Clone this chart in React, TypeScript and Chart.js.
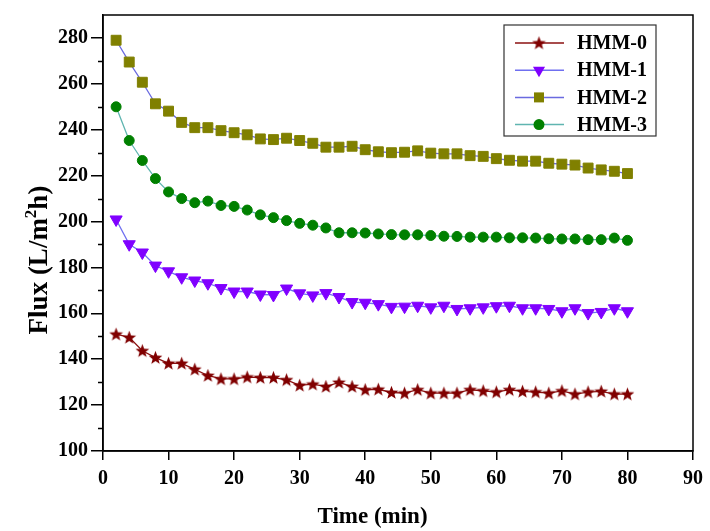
import React, { useEffect, useRef } from 'react';
import { Chart, registerables } from 'chart.js';

Chart.register(...registerables);

const times = [2, 4, 6, 8, 10, 12, 14, 16, 18, 20, 22, 24, 26, 28, 30, 32, 34, 36, 38, 40,
  42, 44, 46, 48, 50, 52, 54, 56, 58, 60, 62, 64, 66, 68, 70, 72, 74, 76, 78, 80];

const hmm0 = [150.9, 149.5, 143.7, 140.7, 138.2, 138.2, 135.6, 132.9, 131.4, 131.4,
  132.2, 132.0, 132.0, 131.0, 128.6, 129.1, 128.1, 129.9, 128.1, 126.7,
  126.9, 125.5, 125.2, 126.7, 125.2, 125.2, 125.2, 126.7, 126.2, 125.7,
  126.7, 126.0, 125.7, 125.2, 126.2, 124.8, 125.7, 126.0, 124.8, 124.8];

const hmm1 = [200.9, 190.1, 186.5, 180.8, 178.3, 175.7, 174.3, 173.1, 171.0, 169.5,
  169.5, 168.2, 168.0, 170.8, 168.7, 167.8, 168.8, 167.1, 164.9, 164.6,
  164.0, 162.8, 162.9, 163.3, 162.6, 163.3, 161.9, 162.2, 162.6, 163.1,
  163.3, 162.2, 162.2, 161.9, 160.9, 162.2, 160.1, 160.6, 162.2, 160.9];

const hmm2 = [279.0, 269.5, 260.7, 251.3, 248.1, 243.2, 240.9, 240.9, 239.6, 238.7,
  237.8, 236.0, 235.7, 236.3, 235.3, 234.1, 232.4, 232.4, 232.8, 231.3,
  230.4, 230.0, 230.2, 230.8, 229.8, 229.5, 229.5, 228.7, 228.4, 227.4,
  226.7, 226.3, 226.3, 225.4, 225.0, 224.6, 223.3, 222.5, 221.9, 220.9];

const hmm3 = [250.0, 235.3, 226.6, 218.7, 212.9, 210.0, 208.2, 208.9, 207.0, 206.6,
  205.0, 202.9, 201.7, 200.4, 199.2, 198.4, 197.2, 195.1, 195.1, 195.0,
  194.6, 194.3, 194.2, 194.2, 193.9, 193.6, 193.5, 193.2, 193.2, 193.2,
  192.9, 192.9, 192.8, 192.5, 192.4, 192.4, 192.1, 192.1, 192.8, 191.8];

const seriesLabels = ['HMM-0', 'HMM-1', 'HMM-2', 'HMM-3'];
const xTitle = 'Time (min)';
const yTitleParts = ['Flux (L/m', '2', 'h)'];

const FONT = "'Liberation Serif', 'Times New Roman', serif";

const markerColors = ['#800000', '#8000ff', '#808000', '#008000'];
const lineColors = ['#8b1010', '#6f6ff0', '#6a6ae0', '#5fb5b0'];

function makeStar(size: number, color: string): HTMLCanvasElement {
  const c = document.createElement('canvas');
  c.width = size;
  c.height = size;
  const ctx = c.getContext('2d')!;
  const cx = size / 2, cy = size / 2 + 0.5;
  const ro = size / 2 - 0.3, ri = ro * 0.42;
  ctx.beginPath();
  for (let i = 0; i < 10; i++) {
    const r = i % 2 === 0 ? ro : ri;
    const a = -Math.PI / 2 + (i * Math.PI) / 5;
    const px = cx + r * Math.cos(a);
    const py = cy + r * Math.sin(a);
    if (i === 0) ctx.moveTo(px, py); else ctx.lineTo(px, py);
  }
  ctx.closePath();
  ctx.fillStyle = color;
  ctx.fill();
  return c;
}

function drawMarker(ctx: CanvasRenderingContext2D, i: number, x: number, y: number, star: HTMLCanvasElement) {
  ctx.save();
  ctx.fillStyle = markerColors[i];
  if (i === 0) {
    ctx.drawImage(star, x - star.width / 2, y - star.height / 2);
  } else if (i === 1) {
    const r = 7;
    ctx.beginPath();
    ctx.moveTo(x, y + r);
    ctx.lineTo(x - r * 0.866, y - r * 0.5);
    ctx.lineTo(x + r * 0.866, y - r * 0.5);
    ctx.closePath();
    ctx.fill();
  } else if (i === 2) {
    ctx.fillRect(x - 5, y - 5, 10, 10);
  } else {
    ctx.beginPath();
    ctx.arc(x, y, 5.5, 0, Math.PI * 2);
    ctx.fill();
  }
  ctx.restore();
}

export default function App() {
  const ref = useRef<HTMLCanvasElement | null>(null);

  useEffect(() => {
    if (!ref.current) return;
    const star = makeStar(15, markerColors[0]);

    const framePlugin = {
      id: 'frameAndLegend',
      afterDraw(chart: any) {
        const { ctx, chartArea } = chart;
        const ys = chart.scales.y;
        ctx.save();
        // minor ticks on y
        ctx.strokeStyle = '#000';
        ctx.lineWidth = 1.5;
        for (let v = 110; v < 290; v += 20) {
          const py = Math.round(ys.getPixelForValue(v)) + 0.5;
          ctx.beginPath();
          ctx.moveTo(chartArea.left - 5, py);
          ctx.lineTo(chartArea.left, py);
          ctx.stroke();
        }
        // frame
        ctx.strokeRect(chartArea.left, chartArea.top, chartArea.right - chartArea.left, chartArea.bottom - chartArea.top);

        // axis titles
        ctx.fillStyle = '#000';
        ctx.font = `bold 23px ${FONT}`;
        ctx.textAlign = 'center';
        ctx.textBaseline = 'alphabetic';
        ctx.fillText(xTitle, 372.5, 523);

        ctx.save();
        ctx.translate(47, 260);
        ctx.rotate(-Math.PI / 2);
        const mainFont = `bold 27px ${FONT}`;
        const supFont = `bold 17px ${FONT}`;
        ctx.textAlign = 'left';
        ctx.font = mainFont;
        const w1 = ctx.measureText(yTitleParts[0]).width;
        const w3 = ctx.measureText(yTitleParts[2]).width;
        ctx.font = supFont;
        const w2 = ctx.measureText(yTitleParts[1]).width;
        let sx = -(w1 + w2 + w3) / 2;
        ctx.font = mainFont;
        ctx.fillText(yTitleParts[0], sx, 0);
        sx += w1;
        ctx.font = supFont;
        ctx.fillText(yTitleParts[1], sx, -11);
        sx += w2;
        ctx.font = mainFont;
        ctx.fillText(yTitleParts[2], sx, 0);
        ctx.restore();

        // legend
        const bx = chartArea.right - 189;
        const by = chartArea.top + 10;
        const bw = 152;
        const bh = 111;
        ctx.fillStyle = '#fff';
        ctx.fillRect(bx, by, bw, bh);
        ctx.strokeStyle = '#333';
        ctx.lineWidth = 1.2;
        ctx.strokeRect(bx, by, bw, bh);
        ctx.font = `bold 20px ${FONT}`;
        ctx.textBaseline = 'middle';
        ctx.textAlign = 'left';
        for (let i = 0; i < 4; i++) {
          const ly = by + 18 + i * 27.2;
          ctx.strokeStyle = lineColors[i];
          ctx.lineWidth = 1.5;
          ctx.beginPath();
          ctx.moveTo(bx + 11, ly);
          ctx.lineTo(bx + 60, ly);
          ctx.stroke();
          drawMarker(ctx, i, bx + 35, ly, star);
          ctx.fillStyle = '#000';
          ctx.fillText(chart.data.datasets[i].label, bx + 73, ly + 1);
        }
        ctx.restore();
      },
    };

    const series = [hmm0, hmm1, hmm2, hmm3];
    const datasets = series.map((vals, i) => ({
      label: seriesLabels[i],
      data: times.map((t, k) => ({ x: t, y: vals[k] })),
      borderColor: lineColors[i],
      borderWidth: 1.3,
      backgroundColor: markerColors[i],
      pointBackgroundColor: markerColors[i],
      pointBorderColor: markerColors[i],
      pointBorderWidth: 1,
      pointStyle: i === 0 ? star : i === 1 ? 'triangle' : i === 2 ? 'rect' : 'circle',
      pointRotation: i === 1 ? 180 : 0,
      pointRadius: i === 1 ? 7 : i === 2 ? 7 : i === 3 ? 5 : 7,
      tension: 0,
      fill: false,
    }));

    const chart = new Chart(ref.current, {
      type: 'line',
      data: { datasets },
      plugins: [framePlugin],
      options: {
        animation: false,
        responsive: true,
        maintainAspectRatio: false,
        layout: { padding: { left: 0, right: 16, top: 12, bottom: 0 } },
        plugins: {
          legend: { display: false },
          tooltip: { enabled: false },
        },
        scales: {
          x: {
            type: 'linear',
            min: 0,
            max: 90,
            afterFit: (s: any) => { s.height = 80; },
            ticks: {
              stepSize: 10,
              color: '#000',
              padding: 7,
              maxRotation: 0,
              font: { family: FONT, size: 20, weight: 'bold' },
            },
            grid: { display: true, drawOnChartArea: false, drawTicks: true, tickLength: 9, color: '#000', lineWidth: 1.5 },
            border: { display: true, color: '#000', width: 1.5 },
            title: { display: false },
          },
          y: {
            type: 'linear',
            min: 100,
            max: 290,
            afterFit: (s: any) => { s.width = 103; },
            afterBuildTicks: (s: any) => {
              s.ticks = s.ticks.filter((t: any) => t.value % 20 === 0);
            },
            ticks: {
              stepSize: 20,
              color: '#000',
              padding: 3,
              font: { family: FONT, size: 20, weight: 'bold' },
            },
            grid: { display: true, drawOnChartArea: false, drawTicks: true, tickLength: 12, color: '#000', lineWidth: 1.5 },
            border: { display: true, color: '#000', width: 1.5 },
            title: { display: false },
          },
        },
      } as any,
    });
    return () => chart.destroy();
  }, []);

  return (
    <div style={{ position: 'fixed', left: 0, top: 0, width: 710, height: 531, background: '#fff' }}>
      <canvas ref={ref} />
    </div>
  );
}
